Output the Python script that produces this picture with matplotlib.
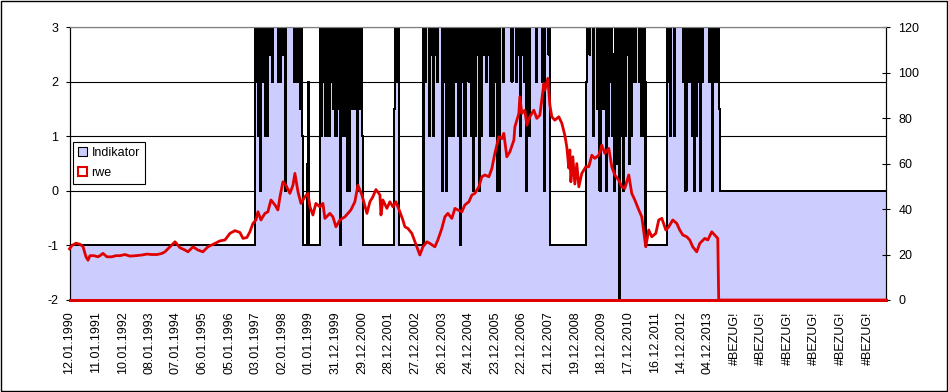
import numpy as np
import matplotlib.pyplot as plt
from matplotlib.patches import Patch, Rectangle

plt.rcParams['font.family'] = ['Liberation Sans', 'DejaVu Sans']
plt.rcParams['font.size'] = 9
plt.rcParams['axes.unicode_minus'] = False

labels = ['12.01.1990', '11.01.1991', '10.01.1992', '08.01.1993', '07.01.1994',
          '06.01.1995', '05.01.1996', '03.01.1997', '02.01.1998', '01.01.1999',
          '31.12.1999', '29.12.2000', '28.12.2001', '27.12.2002', '26.12.2003',
          '24.12.2004', '23.12.2005', '22.12.2006', '21.12.2007', '19.12.2008',
          '18.12.2009', '17.12.2010', '16.12.2011', '14.12.2012', '04.12.2013'] + ['#BEZUG!'] * 6
label_step = 260   # rows between two category labels
ind_step = 10      # indicator read every 10 rows
n_rows = 7980

# Indikator, one code per 10 rows: '0'..'8' -> -1 .. 3 in steps of 0.5, 'x' -> -2
# (pattern, repeat)
ind_pieces = [
    ('0', 181),
    ('86848286' '88484887' '86888886' '86878828' '88888868' '8688584', 1),
    ('00003600000000000', 1),
    ('84868484' '84868584' '85808486' '48282858' '58582858' '84', 1),
    ('0', 30),
    ('58688', 1),
    ('0', 24),
    ('86888487' '84878688' '88286828' '48488488' '68480868' '487'
     '86848284' '87828488' '78687848' '84868282' '88868'
     '88888868' '88687848' '78682864' '88888868' '88886828' '8878', 1),
    ('0', 35),
    ('68878884' '88858285' '85828468' '84728383' 'x8482848' '78384868' '68886848' '86', 1),
    ('0', 21),
    ('86848884' '88888888' '68286868' '48284868' '28688888' '86882868' '6885', 1),
    ('2', 162),
]

# rwe (right axis), row number and value
rwe_day = [0, 24, 64, 103, 132, 161, 181, 200, 239, 278, 298, 327, 366, 415, 454, 493,
           542, 591, 650, 708, 757, 806, 855, 904, 933, 982, 1031, 1080, 1128, 1158,
           1207, 1255, 1304, 1353, 1422, 1470, 1519, 1568, 1617, 1666, 1695, 1734,
           1763, 1793, 1822, 1842, 1871, 1910, 1939, 1969, 2008, 2037, 2057, 2086,
           2115, 2154, 2184, 2203, 2233, 2262, 2301, 2330, 2350, 2379, 2408, 2447,
           2477, 2496, 2545, 2574, 2604, 2643, 2692, 2721, 2750, 2789, 2819, 2858,
           2907, 2936, 2965, 2995, 3034, 3044, 3063, 3102, 3131, 3161, 3190, 3229,
           3258, 3278, 3307, 3346, 3376, 3405, 3424, 3454, 3493, 3522, 3571, 3600,
           3639, 3669, 3698, 3737, 3767, 3796, 3835, 3864, 3903, 3933, 3962, 4001,
           4030, 4060, 4099, 4128, 4157, 4196, 4226, 4245, 4274, 4304, 4343, 4353,
           4392, 4401, 4421, 4450, 4470, 4499, 4538, 4567, 4597, 4616, 4636, 4646,
           4675, 4695, 4714, 4743, 4782, 4812, 4841, 4860, 4880, 4890, 4900, 4919,
           4939, 4958, 4978, 5007, 5046, 5075, 5105, 5134, 5173, 5202, 5232, 5271,
           5300, 5329, 5368, 5398, 5427, 5466, 5495, 5525, 5564, 5593, 5632, 5661,
           5691, 5730, 5759, 5789, 5828, 5857, 5896, 5935, 5964, 5994, 6033, 6062,
           6091, 6130, 6160, 6209, 6238, 6277, 6306, 6336, 6345, 7980]
rwe_val = [22.5, 24, 25, 24.5, 23.5, 19, 17.5, 19.5, 19.5, 19, 19.5, 20.5, 19, 19, 19.5, 19.5,
           20, 19.3, 19.5, 19.8, 20.2, 20, 20, 20.5, 21.2, 23.4, 25.6, 23, 22, 21.2,
           23.4, 22, 21.2, 23.4, 24.9, 26, 26.4, 29.3, 30.5, 29.7, 27.1, 27.5,
           30, 33.7, 35.2, 38.8, 35.2, 38.1, 38.8, 44, 41.8, 39.6, 45.4, 52,
           50.5, 46.9, 50.5, 55.7, 47.6, 42.5, 45.4, 46.9, 41, 37.4, 42.5, 41,
           42.5, 35.9, 38.1, 36.6, 32.2, 35.2, 36.6, 38.1, 39.6, 43.2, 50.5, 46.2,
           38.1, 43.2, 45.4, 48.6, 46.2, 37.4, 44, 40.3, 43.2, 41, 43.2, 38.8,
           35.2, 32.2, 31.5, 29.3, 25.6, 22, 19.8, 23.4, 25.6, 24.9, 23.4, 26.4,
           31.5, 36.6, 38.1, 35.9, 40.3, 39.6, 38.8, 41.8, 43.2, 46.2, 46.9, 49.8,
           54.2, 55, 54.2, 57.9, 64.5, 71.8, 71, 73.3, 63, 65.2, 70.3, 76.2,
           82.1, 89.4, 82.1, 83.5, 76.9, 80.6, 83.5, 79.9, 81.3, 87.9, 95.2, 92.3,
           97.5, 85.7, 80.6, 79.1, 80.6, 77.7, 72.5, 67.4, 58, 66, 52, 63,
           51, 60, 49.8, 55.7, 58.6, 58.6, 63.7, 62.3, 63.7, 68.1, 64.5, 66.7,
           58.6, 55, 52.7, 49.8, 49.1, 55, 46.9, 44, 39.6, 36.6, 23.4, 30.8,
           27.8, 29.3, 35.2, 35.9, 30.8, 32.2, 35.2, 33.7, 30.8, 28.6, 27.8, 26.4,
           23.4, 21.2, 24.9, 27.1, 26.4, 30, 28.6, 27.1, 0, 0]

blue = '#ccccff'
red = '#e00000'

codes = ''.join(p * n for p, n in ind_pieces)
ind = np.array([-2 if c == 'x' else int(c) / 2 - 1 for c in codes])
x_ind = np.arange(len(ind) + 1) * ind_step
y_ind = np.append(ind, ind[-1])

fig = plt.figure(figsize=(9.48, 3.92), dpi=100)
ax = fig.add_axes([69.5 / 948, 1 - 300 / 392, (886 - 69.5) / 948, (300 - 27.2) / 392])

ax.fill_between(x_ind, y_ind, -2, step='post', color=blue, lw=0, zorder=1)
ax.plot(x_ind, y_ind, drawstyle='steps-post', color='black', lw=0.8, zorder=2, antialiased=False)
ax.set_ylim(-2, 3)
ax.set_xlim(0, n_rows)
ax.set_yticks(range(-2, 4))
ax.set_axisbelow(True)
ax.yaxis.grid(True, color='black', lw=0.8)
ax.set_xticks(np.arange(len(labels)) * label_step)
ax.set_xticklabels(labels, rotation=90)
ax.tick_params(axis='x', length=0, pad=8)
ax.tick_params(axis='y', direction='out', length=3, width=0.8, pad=5)

ax2 = ax.twinx()
ax2.plot(rwe_day, rwe_val, color=red, lw=2, zorder=3, clip_on=False)
ax2.set_ylim(0, 120)
ax2.set_yticks(range(0, 121, 20))
ax2.tick_params(axis='y', direction='inout', length=6, width=0.8, pad=6)

for a in (ax, ax2):
    a.spines['top'].set_color('#808080')
    a.spines['left'].set_color('black')
    a.spines['right'].set_color('black')
    a.spines['left'].set_linewidth(0.8)
    a.spines['right'].set_linewidth(0.8)
    a.spines['bottom'].set_color(red)
    a.spines['bottom'].set_linewidth(2)

handles = [Patch(facecolor=blue, edgecolor='black', lw=0.8),
           Patch(facecolor='white', edgecolor=red, lw=1.5)]
leg = ax2.legend(handles, ['Indikator', 'rwe'], loc='upper left', bbox_to_anchor=(0.004, 0.579),
                 borderaxespad=0, fancybox=False, edgecolor='black', framealpha=1,
                 handlelength=0.7, handleheight=0.7, handletextpad=0.4,
                 borderpad=0.4, labelspacing=0.6)
leg.get_frame().set_linewidth(0.8)

fig.patches.append(Rectangle((0.5 / 948, 1.5 / 392), 946 / 948, 390 / 392, transform=fig.transFigure,
                             fill=False, edgecolor='black', lw=1))

fig.savefig('out.png', dpi=100)
